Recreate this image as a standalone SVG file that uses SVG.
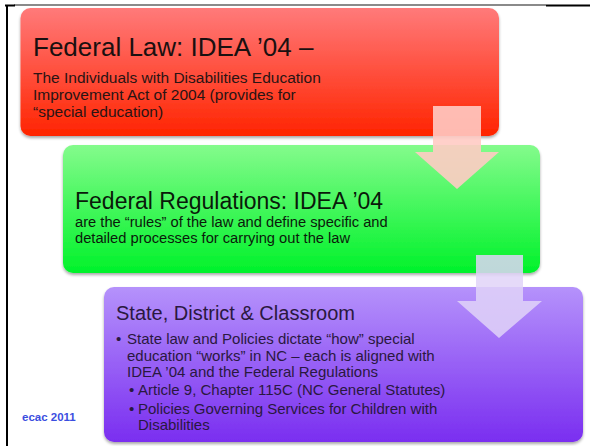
<svg xmlns="http://www.w3.org/2000/svg" width="590" height="446" viewBox="0 0 590 446">
<defs>
<linearGradient id="gRed" x1="0" y1="0" x2="0" y2="1"><stop offset="0" stop-color="#ff7a7a"/><stop offset="1" stop-color="#ff2400"/></linearGradient>
<linearGradient id="gGreen" x1="0" y1="0" x2="0" y2="1"><stop offset="0" stop-color="#84fb8c"/><stop offset="1" stop-color="#00f22a"/></linearGradient>
<linearGradient id="gPurple" x1="0" y1="0" x2="0" y2="1"><stop offset="0" stop-color="#b592fb"/><stop offset="1" stop-color="#7a2ef0"/></linearGradient>
<filter id="sh" x="-5%" y="-5%" width="110%" height="115%"><feGaussianBlur in="SourceAlpha" stdDeviation="1.5"/><feOffset dx="0" dy="1.5"/><feComponentTransfer><feFuncA type="linear" slope="0.35"/></feComponentTransfer><feMerge><feMergeNode/><feMergeNode in="SourceGraphic"/></feMerge></filter>
</defs>
<style>
text{font-family:"Liberation Sans",Arial,sans-serif;}
.t{font-size:26px;fill:#1a1010;}
.b{font-size:15.5px;fill:#2a1414;}
.tg{font-size:23px;fill:#0a1a0a;}
.bg{font-size:14.7px;fill:#0a1a0a;}
.tp{font-size:20px;fill:#2a1840;}
.bp{font-size:15px;fill:#2a1840;}
</style>
<rect width="590" height="446" fill="#ffffff"/>
<g id="frame">
<line x1="14" y1="5" x2="546" y2="5" stroke="#8a8a8a" stroke-width="2"/>
<line x1="546" y1="5.5" x2="590" y2="5.5" stroke="#000" stroke-width="2"/>
<line x1="5" y1="5.5" x2="15" y2="5.5" stroke="#000" stroke-width="2"/>
<line x1="7" y1="5" x2="7" y2="446" stroke="#000" stroke-width="2"/>
</g>
<g id="node-federal-law">
<rect x="20.5" y="8" width="478.5" height="128" rx="10" fill="url(#gRed)" filter="url(#sh)"/>
<text class="t" x="33" y="56">Federal Law: IDEA ’04 –</text>
<text class="b" x="33" y="83">The Individuals with Disabilities Education</text>
<text class="b" x="33" y="100">Improvement Act of 2004 (provides  for</text>
<text class="b" x="33" y="117">“special education)</text>
</g>
<g id="node-federal-regulations">
<rect x="63" y="145" width="477" height="128" rx="10" fill="url(#gGreen)" filter="url(#sh)"/>
<text class="tg" x="75" y="209">Federal Regulations: IDEA ’04</text>
<text class="bg" x="75" y="227">are the “rules” of the law and define specific and</text>
<text class="bg" x="75" y="243">detailed processes for carrying out the law</text>
</g>
<g id="node-state">
<rect x="104" y="287" width="479" height="155" rx="10" fill="url(#gPurple)" filter="url(#sh)"/>
<text class="tp" x="116" y="320">State, District &amp; Classroom</text>
<text class="bp" x="116" y="344">•</text>
<text class="bp" x="127" y="344">State law and Policies dictate “how”  special</text>
<text class="bp" x="127" y="361">education “works” in NC – each is aligned with</text>
<text class="bp" x="127" y="377">IDEA ’04 and the Federal Regulations</text>
<text class="bp" x="129" y="395">•</text>
<text class="bp" x="138" y="395">Article 9, Chapter 115C (NC General Statutes)</text>
<text class="bp" x="129" y="414">•</text>
<text class="bp" x="138" y="414">Policies Governing Services for Children with</text>
<text class="bp" x="138" y="430">Disabilities</text>
</g>
<g id="connectors">
<path d="M433,106 H481 V152 H499 L457,189 L415,152 H433 Z" fill="#ffcbc4" fill-opacity="0.9"/>
<path d="M476,255 H523 V301 H542 L499,338 L457,301 H476 Z" fill="#e0d4f8" fill-opacity="0.85"/>
</g>
<text x="22" y="421" font-size="11.5" font-weight="bold" fill="#3b4ee0">ecac 2011</text>
</svg>
